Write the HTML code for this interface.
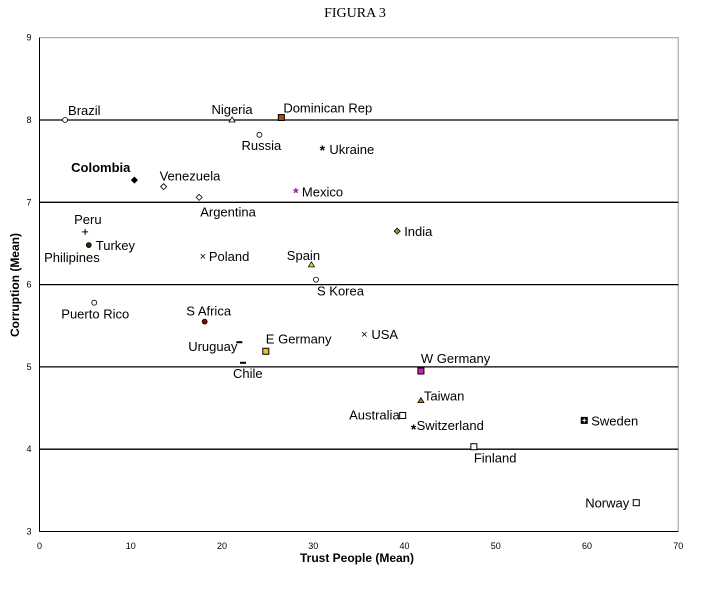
<!DOCTYPE html>
<html><head><meta charset="utf-8"><style>
body{margin:0;background:#fff;width:710px;height:584px;overflow:hidden}
svg{font-family:"Liberation Sans",Arial,sans-serif}
</style></head><body>
<svg width="710" height="584">
<text x="355" y="17" text-anchor="middle" font-family="Liberation Serif,serif" font-size="14">FIGURA 3</text>
<g id="grid"></g><g id="marks"></g>
<text x="357" y="562" text-anchor="middle" font-size="12" font-weight="bold">Trust People (Mean)</text>
<text transform="translate(19,285) rotate(-90)" text-anchor="middle" font-size="12" font-weight="bold">Corruption (Mean)</text>
</svg>
<script>
const countries=["Brazil","Nigeria","Dominican Rep","Russia","Ukraine","Colombia","Venezuela","Argentina","Mexico","Peru","Turkey","Philipines","Poland","Spain","S Korea","India","Puerto Rico","S Africa","Uruguay","E Germany","Chile","USA","W Germany","Taiwan","Australia","Switzerland","Sweden","Finland","Norway"];
const trust=[2.8,21.1,26.5,24.1,31.0,10.4,13.6,17.5,28.1,5.0,5.4,5.4,17.9,29.8,30.3,39.2,6.0,18.1,21.9,24.8,22.3,35.6,41.8,41.8,39.8,41.0,59.7,47.6,65.4];
const corruption=[8.0,8.0,8.03,7.82,7.65,7.27,7.19,7.06,7.13,6.64,6.48,6.48,6.35,6.24,6.06,6.65,5.78,5.55,5.30,5.19,5.05,5.40,4.95,4.59,4.41,4.26,4.35,4.03,3.35];
const xTicks=[0,10,20,30,40,50,60,70];
const yTicks=[3,4,5,6,7,8,9];
const X0=39.5,XS=9.125,Y8=120,YS=82.3;
const sx=v=>X0+v*XS, sy=v=>Y8-(v-8)*YS;
const ns="http://www.w3.org/2000/svg";
function mk(t,a,p){const e=document.createElementNS(ns,t);for(const k in a)e.setAttribute(k,a[k]);p.appendChild(e);return e;}
const g=document.getElementById('grid');
const fr=mk('rect',{x:sx(0),y:sy(9),width:sx(70)-sx(0),height:sy(3)-sy(9),fill:'none',stroke:'#999','stroke-width':1},g);


yTicks.forEach(v=>{
 if(v>3&&v<9){const l=mk('line',{x1:sx(0),x2:sx(70),y1:sy(v),y2:sy(v),stroke:'#000','stroke-width':1.3},g);
 
 }
 const t=mk('text',{x:sx(0)-8,y:sy(v)+3,'text-anchor':'end','font-size':9},g);t.textContent=v;
 
 
});
mk('line',{x1:sx(0),x2:sx(0),y1:sy(9),y2:sy(3),stroke:'#000'},g);
mk('line',{x1:sx(0),x2:sx(70),y1:sy(3),y2:sy(3),stroke:'#000'},g);
xTicks.forEach(v=>{const t=mk('text',{x:sx(v),y:549,'text-anchor':'middle','font-size':9},g);t.textContent=v;
 
 });
const lo={"Brazil":[3,-5,"start"],"Nigeria":[0,-6,"middle"],"Dominican Rep":[2,-5,"start"],"Russia":[2,15,"middle"],"Ukraine":[7,5,"start"],"Colombia":[-4,-8,"end"],"Venezuela":[-4,-6,"start"],"Argentina":[1,19,"start"],"Mexico":[6,5,"start"],"Peru":[-11,-8,"start"],"Turkey":[7,5,"start"],"Philipines":[11,17,"end"],"Poland":[6,5,"start"],"Spain":[-8,-5,"middle"],"S Korea":[1,16,"start"],"India":[7,5,"start"],"Puerto Rico":[1,16,"middle"],"S Africa":[4,-6,"middle"],"Uruguay":[-2,9,"end"],"E Germany":[0,-8,"start"],"Chile":[-10,15,"start"],"USA":[7,5,"start"],"W Germany":[0,-8,"start"],"Taiwan":[3,0,"start"],"Australia":[-3,4,"end"],"Switzerland":[3,2,"start"],"Sweden":[7,5,"start"],"Finland":[0,16,"start"],"Norway":[-7,5,"end"]};
const col={"Dominican Rep":"#b04a10","Mexico":"#902090","Spain":"#e0e040","India":"#80a030","S Africa":"#900000","E Germany":"#f0c020","W Germany":"#d020c0","Taiwan":"#c08020"};
const m=document.getElementById('marks');
countries.forEach((c,i)=>{
 const x=sx(trust[i]),y=sy(corruption[i]);
 const k=mk('g',{},m);
 
 
 const f=col[c]||'#fff';
 if(/Dominican|Germany|Australia|Finland|Sweden|Norway/.test(c)) mk('rect',{x:x-3,y:y-3,width:6,height:6,fill:c=="Sweden"?'#000':f,stroke:'#000','stroke-width':1},k);
 else if(/Nigeria|Spain|Taiwan/.test(c)) mk('path',{d:`M${x-3},${y+2}L${x},${y-3}L${x+3},${y+2}Z`,fill:f,stroke:'#000','stroke-width':0.8},k);
 else if(/Colombia|Venezuela|Argentina|India/.test(c)) mk('path',{d:`M${x},${y-3}L${x+3},${y}L${x},${y+3}L${x-3},${y}Z`,fill:c=="Colombia"?'#000':f,stroke:'#000','stroke-width':0.8},k);
 else if(/Poland|USA/.test(c)) mk('text',{x:x,y:y+4,'text-anchor':'middle','font-size':11},k).textContent='×';
 else if(/Ukraine|Mexico|Switzerland/.test(c)) mk('text',{x:x,y:y+6,'text-anchor':'middle','font-size':14,'font-weight':'bold',fill:col[c]||'#000'},k).textContent='*';
 else if(/Peru/.test(c)) mk('path',{d:`M${x-3},${y}H${x+3}M${x},${y-3}V${y+3}`,stroke:'#000'},k);
 else if(/Uruguay|Chile/.test(c)) mk('rect',{x:x-3,y:y-1,width:6,height:2,fill:'#000'},k);
 else if(c!="Philipines") mk('circle',{cx:x,cy:y,r:2.5,fill:(c=="Turkey"?'#402000':(col[c]||'#fff')),stroke:'#000','stroke-width':0.8},k);
 if(c=="Sweden")mk('path',{d:`M${x-2},${y}H${x+2}M${x},${y-2}V${y+2}`,stroke:'#fff'},k);
 const o=lo[c];
 const t=mk('text',{x:x+o[0],y:y+o[1],'text-anchor':o[2],'font-size':13,'font-weight':c=="Colombia"?'bold':'normal'},k);
 t.textContent=c;
 
 
});
</script>
</body></html>
